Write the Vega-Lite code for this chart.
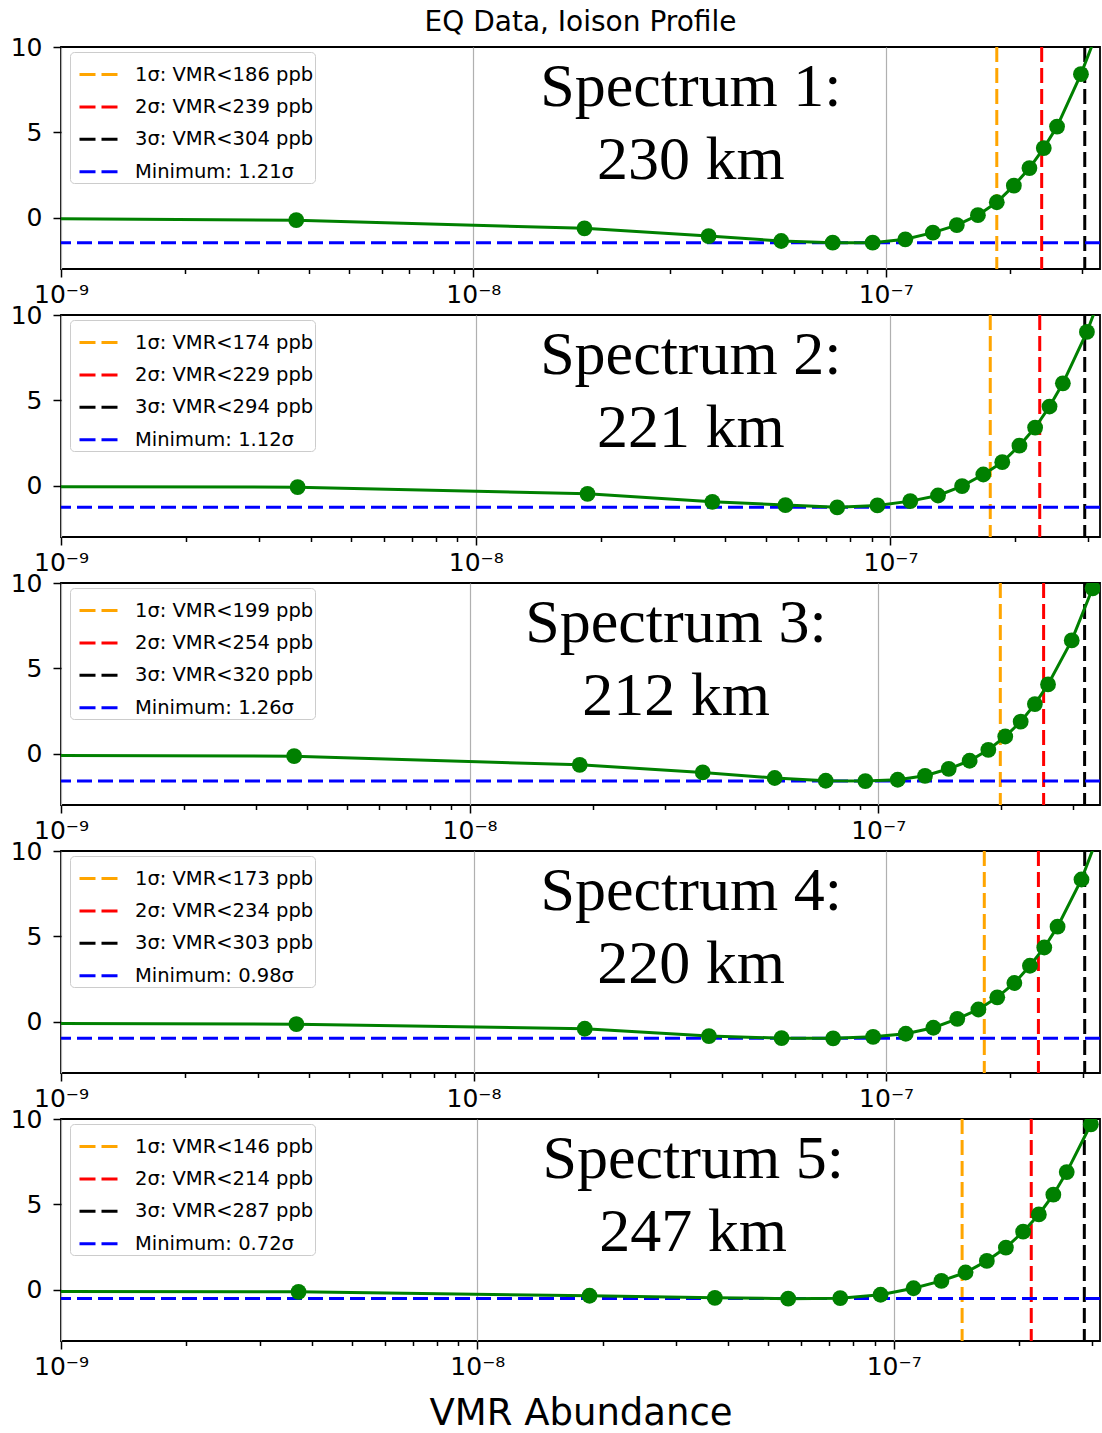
{
  "$schema": "https://vega.github.io/schema/vega-lite/v6.json",
  "padding": {"left": 9, "top": 8, "right": 2, "bottom": 4},
  "config": {
    "font": "DejaVu Sans",
    "view": {"stroke": "black", "strokeWidth": 1.8},
    "axis": {"domain": false, "tickColor": "black", "tickWidth": 1.5, "labelColor": "black", "labelFontSize": 25, "labelFont": "DejaVu Sans", "titleFont": "DejaVu Sans", "titleFontWeight": "normal", "titleColor": "black"},
    "legend": {"orient": "none", "legendX": 9, "legendY": 5, "title": null, "symbolType": "stroke", "symbolSize": 1600, "symbolStrokeWidth": 3, "symbolDash": [16, 6], "symbolOffset": 7, "labelFontSize": 19.5, "labelFont": "DejaVu Sans", "labelColor": "black", "labelOffset": 14, "rowPadding": 1.4, "padding": 1, "fillColor": "rgba(255,255,255,0.8)", "strokeColor": "#cccccc", "cornerRadius": 4, "labelLimit": 400}
  },
  "datasets": {
    "curve": [
      {"panel": 1, "vmr": 3.72e-10, "chi": 0.0}, {"panel": 1, "vmr": 3.72e-9, "chi": -0.14}, {"panel": 1, "vmr": 1.86e-8, "chi": -0.62}, {"panel": 1, "vmr": 3.72e-8, "chi": -1.07}, {"panel": 1, "vmr": 5.58e-8, "chi": -1.36}, {"panel": 1, "vmr": 7.44e-8, "chi": -1.46}, {"panel": 1, "vmr": 9.3e-8, "chi": -1.46}, {"panel": 1, "vmr": 1.116e-7, "chi": -1.26}, {"panel": 1, "vmr": 1.302e-7, "chi": -0.87}, {"panel": 1, "vmr": 1.488e-7, "chi": -0.43}, {"panel": 1, "vmr": 1.674e-7, "chi": 0.15}, {"panel": 1, "vmr": 1.86e-7, "chi": 0.91}, {"panel": 1, "vmr": 2.046e-7, "chi": 1.88}, {"panel": 1, "vmr": 2.232e-7, "chi": 2.91}, {"panel": 1, "vmr": 2.418e-7, "chi": 4.08}, {"panel": 1, "vmr": 2.604e-7, "chi": 5.34}, {"panel": 1, "vmr": 2.976e-7, "chi": 8.41}, {"panel": 1, "vmr": 3.348e-7, "chi": 11.6},
      {"panel": 2, "vmr": 3.72e-10, "chi": -0.05}, {"panel": 2, "vmr": 3.72e-9, "chi": -0.08}, {"panel": 2, "vmr": 1.86e-8, "chi": -0.47}, {"panel": 2, "vmr": 3.72e-8, "chi": -0.94}, {"panel": 2, "vmr": 5.58e-8, "chi": -1.13}, {"panel": 2, "vmr": 7.44e-8, "chi": -1.26}, {"panel": 2, "vmr": 9.3e-8, "chi": -1.15}, {"panel": 2, "vmr": 1.116e-7, "chi": -0.9}, {"panel": 2, "vmr": 1.302e-7, "chi": -0.57}, {"panel": 2, "vmr": 1.488e-7, "chi": -0.02}, {"panel": 2, "vmr": 1.674e-7, "chi": 0.66}, {"panel": 2, "vmr": 1.86e-7, "chi": 1.38}, {"panel": 2, "vmr": 2.046e-7, "chi": 2.35}, {"panel": 2, "vmr": 2.232e-7, "chi": 3.41}, {"panel": 2, "vmr": 2.418e-7, "chi": 4.64}, {"panel": 2, "vmr": 2.604e-7, "chi": 6.0}, {"panel": 2, "vmr": 2.976e-7, "chi": 9.01}, {"panel": 2, "vmr": 3.348e-7, "chi": 12.3},
      {"panel": 3, "vmr": 3.72e-10, "chi": -0.08}, {"panel": 3, "vmr": 3.72e-9, "chi": -0.14}, {"panel": 3, "vmr": 1.86e-8, "chi": -0.65}, {"panel": 3, "vmr": 3.72e-8, "chi": -1.09}, {"panel": 3, "vmr": 5.58e-8, "chi": -1.42}, {"panel": 3, "vmr": 7.44e-8, "chi": -1.58}, {"panel": 3, "vmr": 9.3e-8, "chi": -1.6}, {"panel": 3, "vmr": 1.116e-7, "chi": -1.52}, {"panel": 3, "vmr": 1.302e-7, "chi": -1.29}, {"panel": 3, "vmr": 1.488e-7, "chi": -0.88}, {"panel": 3, "vmr": 1.674e-7, "chi": -0.41}, {"panel": 3, "vmr": 1.86e-7, "chi": 0.23}, {"panel": 3, "vmr": 2.046e-7, "chi": 1.01}, {"panel": 3, "vmr": 2.232e-7, "chi": 1.88}, {"panel": 3, "vmr": 2.418e-7, "chi": 2.91}, {"panel": 3, "vmr": 2.604e-7, "chi": 4.06}, {"panel": 3, "vmr": 2.976e-7, "chi": 6.64}, {"panel": 3, "vmr": 3.348e-7, "chi": 9.69}, {"panel": 3, "vmr": 3.72e-7, "chi": 13.0},
      {"panel": 4, "vmr": 3.72e-10, "chi": -0.08}, {"panel": 4, "vmr": 3.72e-9, "chi": -0.14}, {"panel": 4, "vmr": 1.86e-8, "chi": -0.41}, {"panel": 4, "vmr": 3.72e-8, "chi": -0.84}, {"panel": 4, "vmr": 5.58e-8, "chi": -0.96}, {"panel": 4, "vmr": 7.44e-8, "chi": -0.97}, {"panel": 4, "vmr": 9.3e-8, "chi": -0.88}, {"panel": 4, "vmr": 1.116e-7, "chi": -0.7}, {"panel": 4, "vmr": 1.302e-7, "chi": -0.35}, {"panel": 4, "vmr": 1.488e-7, "chi": 0.17}, {"panel": 4, "vmr": 1.674e-7, "chi": 0.72}, {"panel": 4, "vmr": 1.86e-7, "chi": 1.43}, {"panel": 4, "vmr": 2.046e-7, "chi": 2.27}, {"panel": 4, "vmr": 2.232e-7, "chi": 3.28}, {"panel": 4, "vmr": 2.418e-7, "chi": 4.35}, {"panel": 4, "vmr": 2.604e-7, "chi": 5.57}, {"panel": 4, "vmr": 2.976e-7, "chi": 8.33}, {"panel": 4, "vmr": 3.348e-7, "chi": 11.6},
      {"panel": 5, "vmr": 3.72e-10, "chi": -0.08}, {"panel": 5, "vmr": 3.72e-9, "chi": -0.12}, {"panel": 5, "vmr": 1.86e-8, "chi": -0.35}, {"panel": 5, "vmr": 3.72e-8, "chi": -0.47}, {"panel": 5, "vmr": 5.58e-8, "chi": -0.52}, {"panel": 5, "vmr": 7.44e-8, "chi": -0.49}, {"panel": 5, "vmr": 9.3e-8, "chi": -0.29}, {"panel": 5, "vmr": 1.116e-7, "chi": 0.09}, {"panel": 5, "vmr": 1.302e-7, "chi": 0.52}, {"panel": 5, "vmr": 1.488e-7, "chi": 1.01}, {"panel": 5, "vmr": 1.674e-7, "chi": 1.69}, {"panel": 5, "vmr": 1.86e-7, "chi": 2.47}, {"panel": 5, "vmr": 2.046e-7, "chi": 3.4}, {"panel": 5, "vmr": 2.232e-7, "chi": 4.41}, {"panel": 5, "vmr": 2.418e-7, "chi": 5.57}, {"panel": 5, "vmr": 2.604e-7, "chi": 6.89}, {"panel": 5, "vmr": 2.976e-7, "chi": 9.69}, {"panel": 5, "vmr": 3.348e-7, "chi": 13.0}
    ],
    "sigma": [
      {"panel": 1, "label": "1σ: VMR<186 ppb", "vmr": 1.86e-7}, {"panel": 1, "label": "2σ: VMR<239 ppb", "vmr": 2.39e-7}, {"panel": 1, "label": "3σ: VMR<304 ppb", "vmr": 3.04e-7},
      {"panel": 2, "label": "1σ: VMR<174 ppb", "vmr": 1.74e-7}, {"panel": 2, "label": "2σ: VMR<229 ppb", "vmr": 2.29e-7}, {"panel": 2, "label": "3σ: VMR<294 ppb", "vmr": 2.94e-7},
      {"panel": 3, "label": "1σ: VMR<199 ppb", "vmr": 1.99e-7}, {"panel": 3, "label": "2σ: VMR<254 ppb", "vmr": 2.54e-7}, {"panel": 3, "label": "3σ: VMR<320 ppb", "vmr": 3.2e-7},
      {"panel": 4, "label": "1σ: VMR<173 ppb", "vmr": 1.73e-7}, {"panel": 4, "label": "2σ: VMR<234 ppb", "vmr": 2.34e-7}, {"panel": 4, "label": "3σ: VMR<303 ppb", "vmr": 3.03e-7},
      {"panel": 5, "label": "1σ: VMR<146 ppb", "vmr": 1.46e-7}, {"panel": 5, "label": "2σ: VMR<214 ppb", "vmr": 2.14e-7}, {"panel": 5, "label": "3σ: VMR<287 ppb", "vmr": 2.87e-7}
    ],
    "minimum": [
      {"panel": 1, "label": "Minimum: 1.21σ", "chi": -1.4641},
      {"panel": 2, "label": "Minimum: 1.12σ", "chi": -1.2544},
      {"panel": 3, "label": "Minimum: 1.26σ", "chi": -1.5876},
      {"panel": 4, "label": "Minimum: 0.98σ", "chi": -0.9604},
      {"panel": 5, "label": "Minimum: 0.72σ", "chi": -0.5184}
    ],
    "note": [
      {"panel": 1, "text": "Spectrum 1:", "vmr": 3.37e-8, "chi": 6.55}, {"panel": 1, "text": "230 km", "vmr": 3.37e-8, "chi": 2.25},
      {"panel": 2, "text": "Spectrum 2:", "vmr": 3.3e-8, "chi": 6.55}, {"panel": 2, "text": "221 km", "vmr": 3.3e-8, "chi": 2.25},
      {"panel": 3, "text": "Spectrum 3:", "vmr": 3.2e-8, "chi": 6.55}, {"panel": 3, "text": "212 km", "vmr": 3.2e-8, "chi": 2.25},
      {"panel": 4, "text": "Spectrum 4:", "vmr": 3.37e-8, "chi": 6.55}, {"panel": 4, "text": "220 km", "vmr": 3.37e-8, "chi": 2.25},
      {"panel": 5, "text": "Spectrum 5:", "vmr": 3.3e-8, "chi": 6.55}, {"panel": 5, "text": "247 km", "vmr": 3.3e-8, "chi": 2.25}
    ]
  },
  "vconcat": [
    {
      "width": 1039, "height": 222,
      "title": {"text": "EQ Data, Ioison Profile", "fontSize": 28, "fontWeight": "normal", "font": "DejaVu Sans", "anchor": "middle", "offset": -2, "color": "black"},
      "layer": [
        {"data": {"name": "sigma"}, "transform": [{"filter": "datum.panel == 1"}], "mark": {"type": "rule", "strokeDash": [15, 6], "strokeWidth": 3},
         "encoding": {"x": {"field": "vmr", "type": "quantitative", "scale": {"type": "log", "domain": [1e-9, 3.31e-7], "nice": false},
           "axis": {"title": null, "values": [1e-9, 2e-9, 3e-9, 4e-9, 5e-9, 6e-9, 7e-9, 8e-9, 9e-9, 1e-8, 2e-8, 3e-8, 4e-8, 5e-8, 6e-8, 7e-8, 8e-8, 9e-8, 1e-7, 2e-7, 3e-7], "labelExpr": "abs(log(datum.value)/LN10 + 9) < 0.01 ? '10⁻⁹' : abs(log(datum.value)/LN10 + 8) < 0.01 ? '10⁻⁸' : abs(log(datum.value)/LN10 + 7) < 0.01 ? '10⁻⁷' : ''", "labelOverlap": false, "labelFlush": false, "labelPadding": 5, "tickSize": {"condition": {"test": "abs(log(datum.value)/LN10 - round(log(datum.value)/LN10)) < 0.01", "value": 8}, "value": 4.5}, "grid": true, "gridColor": "#b0b0b0", "gridWidth": 1.2, "gridOpacity": {"condition": {"test": "abs(log(datum.value)/LN10 - round(log(datum.value)/LN10)) < 0.01", "value": 1}, "value": 0}}},
           "color": {"field": "label", "type": "nominal", "scale": {"domain": ["1σ: VMR<186 ppb", "2σ: VMR<239 ppb", "3σ: VMR<304 ppb", "Minimum: 1.21σ"], "range": ["orange", "red", "black", "blue"]}}}},
        {"data": {"name": "minimum"}, "transform": [{"filter": "datum.panel == 1"}], "mark": {"type": "rule", "strokeDash": [15, 6], "strokeWidth": 3},
         "encoding": {"y": {"field": "chi", "type": "quantitative", "scale": {"domain": [-3, 10], "nice": false}, "axis": {"title": null, "values": [0, 5, 10], "tickSize": 8, "labelPadding": 11, "grid": false}}, "color": {"field": "label", "type": "nominal"}}},
        {"data": {"name": "curve"}, "transform": [{"filter": "datum.panel == 1"}], "mark": {"type": "line", "color": "green", "strokeWidth": 3, "clip": true},
         "encoding": {"x": {"field": "vmr", "type": "quantitative"}, "y": {"field": "chi", "type": "quantitative"}}},
        {"data": {"name": "curve"}, "transform": [{"filter": "datum.panel == 1"}], "mark": {"type": "point", "filled": true, "color": "green", "opacity": 1, "size": 250, "clip": true},
         "encoding": {"x": {"field": "vmr", "type": "quantitative"}, "y": {"field": "chi", "type": "quantitative"}}},
        {"data": {"name": "note"}, "transform": [{"filter": "datum.panel == 1"}], "mark": {"type": "text", "font": "Liberation Serif", "fontSize": 62, "align": "center", "baseline": "alphabetic", "color": "black"},
         "encoding": {"x": {"field": "vmr", "type": "quantitative"}, "y": {"field": "chi", "type": "quantitative"}, "text": {"field": "text"}}}
      ]
    },
    {
      "width": 1039, "height": 222,
      "layer": [
        {"data": {"name": "sigma"}, "transform": [{"filter": "datum.panel == 2"}], "mark": {"type": "rule", "strokeDash": [15, 6], "strokeWidth": 3},
         "encoding": {"x": {"field": "vmr", "type": "quantitative", "scale": {"type": "log", "domain": [1e-9, 3.2e-7], "nice": false},
           "axis": {"title": null, "values": [1e-9, 2e-9, 3e-9, 4e-9, 5e-9, 6e-9, 7e-9, 8e-9, 9e-9, 1e-8, 2e-8, 3e-8, 4e-8, 5e-8, 6e-8, 7e-8, 8e-8, 9e-8, 1e-7, 2e-7, 3e-7], "labelExpr": "abs(log(datum.value)/LN10 + 9) < 0.01 ? '10⁻⁹' : abs(log(datum.value)/LN10 + 8) < 0.01 ? '10⁻⁸' : abs(log(datum.value)/LN10 + 7) < 0.01 ? '10⁻⁷' : ''", "labelOverlap": false, "labelFlush": false, "labelPadding": 5, "tickSize": {"condition": {"test": "abs(log(datum.value)/LN10 - round(log(datum.value)/LN10)) < 0.01", "value": 8}, "value": 4.5}, "grid": true, "gridColor": "#b0b0b0", "gridWidth": 1.2, "gridOpacity": {"condition": {"test": "abs(log(datum.value)/LN10 - round(log(datum.value)/LN10)) < 0.01", "value": 1}, "value": 0}}},
           "color": {"field": "label", "type": "nominal", "scale": {"domain": ["1σ: VMR<174 ppb", "2σ: VMR<229 ppb", "3σ: VMR<294 ppb", "Minimum: 1.12σ"], "range": ["orange", "red", "black", "blue"]}}}},
        {"data": {"name": "minimum"}, "transform": [{"filter": "datum.panel == 2"}], "mark": {"type": "rule", "strokeDash": [15, 6], "strokeWidth": 3},
         "encoding": {"y": {"field": "chi", "type": "quantitative", "scale": {"domain": [-3, 10], "nice": false}, "axis": {"title": null, "values": [0, 5, 10], "tickSize": 8, "labelPadding": 11, "grid": false}}, "color": {"field": "label", "type": "nominal"}}},
        {"data": {"name": "curve"}, "transform": [{"filter": "datum.panel == 2"}], "mark": {"type": "line", "color": "green", "strokeWidth": 3, "clip": true},
         "encoding": {"x": {"field": "vmr", "type": "quantitative"}, "y": {"field": "chi", "type": "quantitative"}}},
        {"data": {"name": "curve"}, "transform": [{"filter": "datum.panel == 2"}], "mark": {"type": "point", "filled": true, "color": "green", "opacity": 1, "size": 250, "clip": true},
         "encoding": {"x": {"field": "vmr", "type": "quantitative"}, "y": {"field": "chi", "type": "quantitative"}}},
        {"data": {"name": "note"}, "transform": [{"filter": "datum.panel == 2"}], "mark": {"type": "text", "font": "Liberation Serif", "fontSize": 62, "align": "center", "baseline": "alphabetic", "color": "black"},
         "encoding": {"x": {"field": "vmr", "type": "quantitative"}, "y": {"field": "chi", "type": "quantitative"}, "text": {"field": "text"}}}
      ]
    },
    {
      "width": 1039, "height": 222,
      "layer": [
        {"data": {"name": "sigma"}, "transform": [{"filter": "datum.panel == 3"}], "mark": {"type": "rule", "strokeDash": [15, 6], "strokeWidth": 3},
         "encoding": {"x": {"field": "vmr", "type": "quantitative", "scale": {"type": "log", "domain": [1e-9, 3.49e-7], "nice": false},
           "axis": {"title": null, "values": [1e-9, 2e-9, 3e-9, 4e-9, 5e-9, 6e-9, 7e-9, 8e-9, 9e-9, 1e-8, 2e-8, 3e-8, 4e-8, 5e-8, 6e-8, 7e-8, 8e-8, 9e-8, 1e-7, 2e-7, 3e-7], "labelExpr": "abs(log(datum.value)/LN10 + 9) < 0.01 ? '10⁻⁹' : abs(log(datum.value)/LN10 + 8) < 0.01 ? '10⁻⁸' : abs(log(datum.value)/LN10 + 7) < 0.01 ? '10⁻⁷' : ''", "labelOverlap": false, "labelFlush": false, "labelPadding": 5, "tickSize": {"condition": {"test": "abs(log(datum.value)/LN10 - round(log(datum.value)/LN10)) < 0.01", "value": 8}, "value": 4.5}, "grid": true, "gridColor": "#b0b0b0", "gridWidth": 1.2, "gridOpacity": {"condition": {"test": "abs(log(datum.value)/LN10 - round(log(datum.value)/LN10)) < 0.01", "value": 1}, "value": 0}}},
           "color": {"field": "label", "type": "nominal", "scale": {"domain": ["1σ: VMR<199 ppb", "2σ: VMR<254 ppb", "3σ: VMR<320 ppb", "Minimum: 1.26σ"], "range": ["orange", "red", "black", "blue"]}}}},
        {"data": {"name": "minimum"}, "transform": [{"filter": "datum.panel == 3"}], "mark": {"type": "rule", "strokeDash": [15, 6], "strokeWidth": 3},
         "encoding": {"y": {"field": "chi", "type": "quantitative", "scale": {"domain": [-3, 10], "nice": false}, "axis": {"title": null, "values": [0, 5, 10], "tickSize": 8, "labelPadding": 11, "grid": false}}, "color": {"field": "label", "type": "nominal"}}},
        {"data": {"name": "curve"}, "transform": [{"filter": "datum.panel == 3"}], "mark": {"type": "line", "color": "green", "strokeWidth": 3, "clip": true},
         "encoding": {"x": {"field": "vmr", "type": "quantitative"}, "y": {"field": "chi", "type": "quantitative"}}},
        {"data": {"name": "curve"}, "transform": [{"filter": "datum.panel == 3"}], "mark": {"type": "point", "filled": true, "color": "green", "opacity": 1, "size": 250, "clip": true},
         "encoding": {"x": {"field": "vmr", "type": "quantitative"}, "y": {"field": "chi", "type": "quantitative"}}},
        {"data": {"name": "note"}, "transform": [{"filter": "datum.panel == 3"}], "mark": {"type": "text", "font": "Liberation Serif", "fontSize": 62, "align": "center", "baseline": "alphabetic", "color": "black"},
         "encoding": {"x": {"field": "vmr", "type": "quantitative"}, "y": {"field": "chi", "type": "quantitative"}, "text": {"field": "text"}}}
      ]
    },
    {
      "width": 1039, "height": 222,
      "layer": [
        {"data": {"name": "sigma"}, "transform": [{"filter": "datum.panel == 4"}], "mark": {"type": "rule", "strokeDash": [15, 6], "strokeWidth": 3},
         "encoding": {"x": {"field": "vmr", "type": "quantitative", "scale": {"type": "log", "domain": [1e-9, 3.3e-7], "nice": false},
           "axis": {"title": null, "values": [1e-9, 2e-9, 3e-9, 4e-9, 5e-9, 6e-9, 7e-9, 8e-9, 9e-9, 1e-8, 2e-8, 3e-8, 4e-8, 5e-8, 6e-8, 7e-8, 8e-8, 9e-8, 1e-7, 2e-7, 3e-7], "labelExpr": "abs(log(datum.value)/LN10 + 9) < 0.01 ? '10⁻⁹' : abs(log(datum.value)/LN10 + 8) < 0.01 ? '10⁻⁸' : abs(log(datum.value)/LN10 + 7) < 0.01 ? '10⁻⁷' : ''", "labelOverlap": false, "labelFlush": false, "labelPadding": 5, "tickSize": {"condition": {"test": "abs(log(datum.value)/LN10 - round(log(datum.value)/LN10)) < 0.01", "value": 8}, "value": 4.5}, "grid": true, "gridColor": "#b0b0b0", "gridWidth": 1.2, "gridOpacity": {"condition": {"test": "abs(log(datum.value)/LN10 - round(log(datum.value)/LN10)) < 0.01", "value": 1}, "value": 0}}},
           "color": {"field": "label", "type": "nominal", "scale": {"domain": ["1σ: VMR<173 ppb", "2σ: VMR<234 ppb", "3σ: VMR<303 ppb", "Minimum: 0.98σ"], "range": ["orange", "red", "black", "blue"]}}}},
        {"data": {"name": "minimum"}, "transform": [{"filter": "datum.panel == 4"}], "mark": {"type": "rule", "strokeDash": [15, 6], "strokeWidth": 3},
         "encoding": {"y": {"field": "chi", "type": "quantitative", "scale": {"domain": [-3, 10], "nice": false}, "axis": {"title": null, "values": [0, 5, 10], "tickSize": 8, "labelPadding": 11, "grid": false}}, "color": {"field": "label", "type": "nominal"}}},
        {"data": {"name": "curve"}, "transform": [{"filter": "datum.panel == 4"}], "mark": {"type": "line", "color": "green", "strokeWidth": 3, "clip": true},
         "encoding": {"x": {"field": "vmr", "type": "quantitative"}, "y": {"field": "chi", "type": "quantitative"}}},
        {"data": {"name": "curve"}, "transform": [{"filter": "datum.panel == 4"}], "mark": {"type": "point", "filled": true, "color": "green", "opacity": 1, "size": 250, "clip": true},
         "encoding": {"x": {"field": "vmr", "type": "quantitative"}, "y": {"field": "chi", "type": "quantitative"}}},
        {"data": {"name": "note"}, "transform": [{"filter": "datum.panel == 4"}], "mark": {"type": "text", "font": "Liberation Serif", "fontSize": 62, "align": "center", "baseline": "alphabetic", "color": "black"},
         "encoding": {"x": {"field": "vmr", "type": "quantitative"}, "y": {"field": "chi", "type": "quantitative"}, "text": {"field": "text"}}}
      ]
    },
    {
      "width": 1039, "height": 222,
      "layer": [
        {"data": {"name": "sigma"}, "transform": [{"filter": "datum.panel == 5"}], "mark": {"type": "rule", "strokeDash": [15, 6], "strokeWidth": 3},
         "encoding": {"x": {"field": "vmr", "type": "quantitative", "scale": {"type": "log", "domain": [1e-9, 3.13e-7], "nice": false},
           "axis": {"title": "VMR Abundance", "titleFontSize": 37, "titlePadding": 16, "values": [1e-9, 2e-9, 3e-9, 4e-9, 5e-9, 6e-9, 7e-9, 8e-9, 9e-9, 1e-8, 2e-8, 3e-8, 4e-8, 5e-8, 6e-8, 7e-8, 8e-8, 9e-8, 1e-7, 2e-7, 3e-7], "labelExpr": "abs(log(datum.value)/LN10 + 9) < 0.01 ? '10⁻⁹' : abs(log(datum.value)/LN10 + 8) < 0.01 ? '10⁻⁸' : abs(log(datum.value)/LN10 + 7) < 0.01 ? '10⁻⁷' : ''", "labelOverlap": false, "labelFlush": false, "labelPadding": 5, "tickSize": {"condition": {"test": "abs(log(datum.value)/LN10 - round(log(datum.value)/LN10)) < 0.01", "value": 8}, "value": 4.5}, "grid": true, "gridColor": "#b0b0b0", "gridWidth": 1.2, "gridOpacity": {"condition": {"test": "abs(log(datum.value)/LN10 - round(log(datum.value)/LN10)) < 0.01", "value": 1}, "value": 0}}},
           "color": {"field": "label", "type": "nominal", "scale": {"domain": ["1σ: VMR<146 ppb", "2σ: VMR<214 ppb", "3σ: VMR<287 ppb", "Minimum: 0.72σ"], "range": ["orange", "red", "black", "blue"]}}}},
        {"data": {"name": "minimum"}, "transform": [{"filter": "datum.panel == 5"}], "mark": {"type": "rule", "strokeDash": [15, 6], "strokeWidth": 3},
         "encoding": {"y": {"field": "chi", "type": "quantitative", "scale": {"domain": [-3, 10], "nice": false}, "axis": {"title": null, "values": [0, 5, 10], "tickSize": 8, "labelPadding": 11, "grid": false}}, "color": {"field": "label", "type": "nominal"}}},
        {"data": {"name": "curve"}, "transform": [{"filter": "datum.panel == 5"}], "mark": {"type": "line", "color": "green", "strokeWidth": 3, "clip": true},
         "encoding": {"x": {"field": "vmr", "type": "quantitative"}, "y": {"field": "chi", "type": "quantitative"}}},
        {"data": {"name": "curve"}, "transform": [{"filter": "datum.panel == 5"}], "mark": {"type": "point", "filled": true, "color": "green", "opacity": 1, "size": 250, "clip": true},
         "encoding": {"x": {"field": "vmr", "type": "quantitative"}, "y": {"field": "chi", "type": "quantitative"}}},
        {"data": {"name": "note"}, "transform": [{"filter": "datum.panel == 5"}], "mark": {"type": "text", "font": "Liberation Serif", "fontSize": 62, "align": "center", "baseline": "alphabetic", "color": "black"},
         "encoding": {"x": {"field": "vmr", "type": "quantitative"}, "y": {"field": "chi", "type": "quantitative"}, "text": {"field": "text"}}}
      ]
    }
  ],
  "spacing": 46,
  "bounds": "flush",
  "resolve": {"scale": {"x": "independent", "y": "independent", "color": "independent"}, "axis": {"x": "independent", "y": "independent"}, "legend": {"color": "independent"}}
}
